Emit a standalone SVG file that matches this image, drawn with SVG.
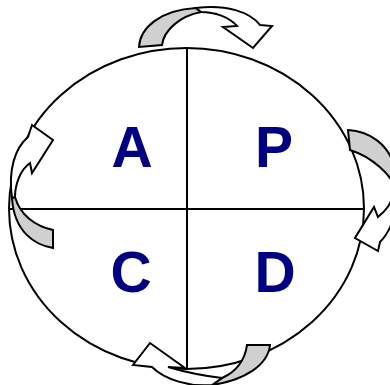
<svg xmlns="http://www.w3.org/2000/svg" width="390" height="385" viewBox="0 0 390 385">
<style>
.ln{fill:none;stroke:#000;stroke-width:2}
.w{fill:#fff;stroke:#000;stroke-width:2;stroke-linejoin:miter}
.g{fill:#d0d0d0;stroke:#000;stroke-width:2;stroke-linejoin:miter}
.lt{font-family:"Liberation Sans",Arial,sans-serif;font-weight:bold;font-size:57px;fill:#000080;text-anchor:middle}
</style>
<rect width="390" height="385" fill="#fff"/>
<g id="cycle">
<ellipse class="ln" cx="186.5" cy="208.5" rx="177.5" ry="160.5"/>
<line class="ln" x1="187" y1="48" x2="187" y2="369"/>
<line class="ln" x1="9" y1="209" x2="364" y2="209"/>
</g>
<g id="A"><text class="lt" x="132" y="167">A</text></g>
<g id="P"><text class="lt" x="274" y="167">P</text></g>
<g id="C"><text class="lt" x="131" y="292">C</text></g>
<g id="D"><text class="lt" x="275" y="292">D</text></g>
<g id="connectors">
<g id="arrow-top">
<path class="g" d="M139,47 C140,28 160,10 196,8 L201,12 C180,16 164,30 162,45 Z"/>
<path class="w" d="M196,8 C226,4 250,12 260,25 L272,26 L253,48 L223,27 L237,26 C229,17 215,12 201,12 Z"/>
</g>
<g id="arrow-left">
<path class="g" d="M53,230 L53,248 C35,245 14,232 12,198 L15,197 C20,215 35,226 53,230 Z"/>
<path class="w" d="M12,198 C8,170 15,148 28,137 L32,125 L53,140 L32,173 L30,163 C20,170 15,185 15,197 Z"/>
</g>
<g id="arrow-right">
<path class="g" d="M348,130 C370,131 388,145 394,165 L396,190 C392,175 372,157 350,150 Z"/>
<path class="w" d="M394,190 C392,205 384,212 378,217 L374,207 L355,238 L378,251 L380,242 C390,232 397,215 396,190 Z"/>
</g>
<g id="arrow-bottom">
<path class="g" d="M247,345 L270,345 C268,365 245,380 212,385 L222,378 C236,372 245,360 247,345 Z"/>
<path class="w" d="M212,385 C190,387 165,380 152,367 L133,365 L150,343 L185,368 L168,367 C185,372 205,376 222,378 Z"/>
</g>
</g>
</svg>
